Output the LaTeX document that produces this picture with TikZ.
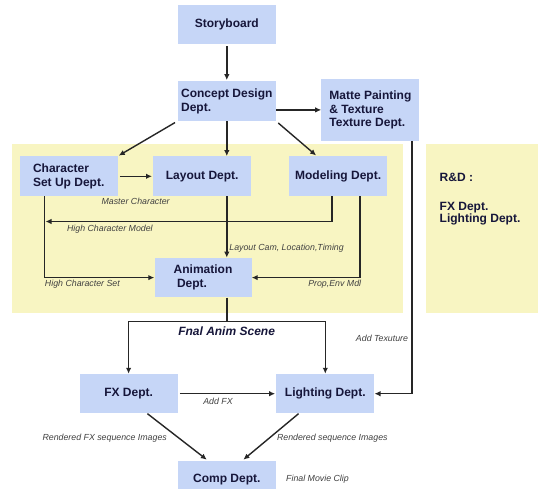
\documentclass[tikz,border=0pt]{standalone}
\usepackage{fontspec}
\setmainfont{Liberation Sans}
\usetikzlibrary{calc,arrows.meta}
\definecolor{boxblue}{HTML}{C6D6F7}
\definecolor{pale}{HTML}{F8F5C2}
\definecolor{ink}{HTML}{16163A}
\begin{document}
\begin{tikzpicture}[x=1pt,y=-1pt]
				\tikzset{s/.style={fill=boxblue,text=ink,font=\bfseries\fontsize{12}{13.7}\selectfont,minimum width=98pt,minimum height=39.5pt,inner sep=0pt,align=left},
					lb/.style={font=\itshape\fontsize{8.8}{10}\selectfont,text=black!75,inner sep=0pt},
					ar/.style={draw=black!85,line width=1.4pt,-{Latex[length=6pt,width=5.5pt]}}}
				\useasboundingbox[fill=white](0,0)rectangle(538,489);
				%%Nen vang
				\fill[pale](12,144)rectangle(403.4,312.8);
				\fill[pale](425.7,144)rectangle(538,312.8);
				\path(226.8,24.5)node[s](SB){Storyboard}
				(226.8,101.1)node[s](CD){Concept Design\\Dept.}
				(370.4,109.9)node[s,minimum height=61.7pt](MP){Matte Painting\\\& Texture\\Texture Dept.}
				(68.7,176.3)node[s,minimum height=40pt](CS){Character\\Set Up Dept.}
				(202.2,176.3)node[s,minimum height=40pt](LY){Layout Dept.}
				(338.1,176.3)node[s,minimum height=40pt](MD){Modeling Dept.}
				(203,277.6)node[s,minimum width=97pt](AN){Animation\\\ Dept.}
				(128.6,393.7)node[s](FX){FX Dept.}
				(325.3,393.7)node[s](LT){Lighting Dept.}
				(226.8,480)node[s,minimum height=39pt](CP){Comp Dept.};
				\path(439.5,199.5)node[anchor=west,text=ink,font=\bfseries\fontsize{12}{12.7}\selectfont,align=left,inner sep=0pt](RD){R\&D :\\[15.6pt]FX Dept.\\Lighting Dept.};
				%%Diem phu
				\path([xshift=25pt]CS.south west)coordinate(cs1)
				([xshift=43pt]MD.south west)coordinate(md1)
				([xshift=71pt]MD.south west)coordinate(md2)
				([xshift=-7.5pt]MP.south east)coordinate(mp1)
				(SB.south|-0,321.4)coordinate(sp);
				\foreach \x/\y in {
					SB/CD,
					CS/LY,
					FX/LT}
				\draw[ar,shorten <=2pt,shorten >=1pt](\x)--(\y);
				\draw[ar,shorten <=3pt,shorten >=1pt](CD.south west)--(CS.north east);
				\draw[ar](CD.south)--(CD.south|-LY.north);
				\draw[ar,shorten <=3pt,shorten >=1pt](CD.south east)--([xshift=28pt]MD.north west);
				\draw[ar](CD.east|-MP.west)--(MP.west);
				\draw[ar](md1)|-($(cs1)+(1,25)$);
				\draw[ar](cs1)|-(AN.west);
				\draw[ar](md2)|-(AN.east);
				\draw[ar](CD.south|-LY.south)--(CD.south|-AN.north);
				\draw[draw=black!85,line width=1.4pt](CD.south|-AN.south)--(sp);
				\draw[ar](sp)-|(FX.north);
				\draw[ar](sp)-|(LT.north);
				\draw[ar](mp1)|-(LT.east);
				\draw[ar,shorten >=1pt]([xshift=68pt]FX.south west)--([xshift=30pt]CP.north west);
				\draw[ar,shorten >=1pt]([xshift=22.5pt]LT.south west)--([xshift=65pt]CP.north west);
				%%Nhan
				\path(135.6,201.5)node[lb]{Master Character}
				(109.9,229)node[lb]{High Character Model}
				(286.6,248.2)node[lb]{Layout Cam, Location,Timing}
				(82.4,284.6)node[lb]{High Character Set}
				(334.7,284.6)node[lb]{Prop,Env Mdl}
				(226.6,331.7)node[lb,font=\bfseries\itshape\fontsize{12}{13}\selectfont,text=ink]{Fnal Anim Scene}
				(382,338.5)node[lb]{Add Texuture}
				(218,401.3)node[lb]{Add FX}
				(104.7,438.4)node[lb]{Rendered FX sequence Images}
				(332.3,438.4)node[lb]{Rendered sequence Images}
				(317.5,479.6)node[lb]{Final Movie Clip};
			\end{tikzpicture}
\end{document}
